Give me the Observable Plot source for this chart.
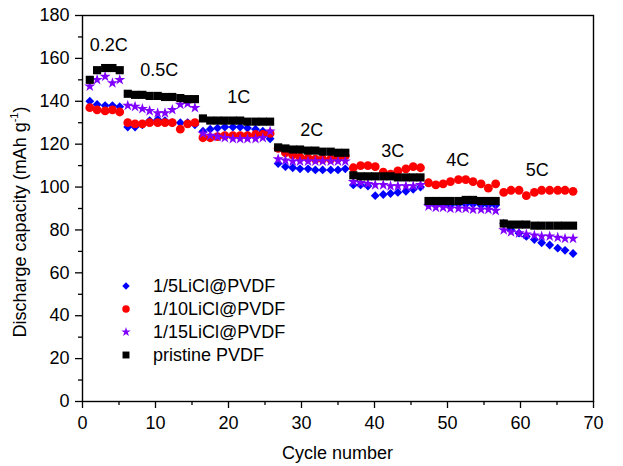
<!DOCTYPE html>
<html><head><meta charset="utf-8">
<script src="https://cdn.jsdelivr.net/npm/d3@7"></script>
<script src="https://cdn.jsdelivr.net/npm/@observablehq/plot@0.6"></script>
<style>
body{margin:0;background:#fff}
svg{font-family:"Liberation Sans", Arial, Helvetica, sans-serif}
</style>
</head><body><div id="chart"></div>
<script>
// Cycle positions (x)
const cycles = [1.0, 2.0, 3.1, 4.1, 5.1,
  6.2, 7.2, 8.2, 9.2, 10.3, 11.3, 12.3, 13.4, 14.4, 15.4,
  16.5, 17.5, 18.5, 19.5, 20.6, 21.6, 22.6, 23.7, 24.7, 25.7,
  26.8, 27.8, 28.8, 29.8, 30.9, 31.9, 32.9, 34.0, 35.0, 36.0,
  37.1, 38.1, 39.1, 40.1, 41.2, 42.2, 43.2, 44.3, 45.3, 46.3,
  47.4, 48.4, 49.4, 50.4, 51.5, 52.5, 53.5, 54.6, 55.6, 56.6,
  57.7, 58.7, 59.8, 60.8, 61.9, 62.9, 64.0, 65.1, 66.1, 67.2];

const seriesNames = ["1/5LiCl@PVDF", "1/10LiCl@PVDF", "1/15LiCl@PVDF", "pristine PVDF"];
const seriesColors = ["#0000ff", "#ff0000", "#8000ff", "#000000"];
const seriesSymbols = ["diamond2", "circle", "star", "square"];

const cap1_5 = [140, 138.5, 138, 138, 137.5,
  128, 128, 129, 131, 131.5, 131, 130, 130, 130, 129,
  126, 127, 127.5, 128, 128, 128, 127.5, 127, 126, 122.5,
  111, 109.5, 109, 108.5, 108.5, 108, 108, 108, 108, 108.5,
  101, 101, 100.5, 96, 96.5, 97, 97.5, 98, 99, 100,
  92, 92, 91.5, 91.5, 92, 92, 92, 91.5, 91.5, 91.5,
  83, 80, 78.5, 77, 75.5, 74, 73, 71.5, 70.5, 69];

const cap1_10 = [137, 136, 135.5, 136, 135,
  130, 129.5, 129.5, 130, 130, 130, 130, 127, 129.5, 130,
  123, 123, 123.5, 124, 124, 124, 124, 124.5, 124.5, 125,
  118, 116, 115, 114, 113.5, 113, 113, 113, 113.5, 114.5,
  109, 110, 110, 109.5, 107, 106, 107.5, 108.5, 109.5, 109,
  102, 101, 101.5, 102.5, 103.5, 103.5, 102.5, 101.5, 99.5, 101.5,
  97.5, 98.5, 98.5, 96, 97.5, 98.5, 98.5, 98.5, 98.5, 98];

const cap1_15 = [147, 150, 151.5, 148.5, 150,
  138, 137.5, 136.5, 135.5, 134.5, 134.5, 136, 138.5, 139, 137,
  125, 124, 123.5, 123, 122.5, 122.5, 122.5, 122.5, 123, 126,
  113, 112.5, 112, 112, 112, 112, 112, 112, 112, 112,
  102.5, 102, 101.5, 101, 101, 100.5, 100.5, 100.5, 100.5, 101,
  91, 90.5, 90.5, 90, 90, 90, 89.5, 89.5, 89.5, 89,
  80, 79, 78.5, 78, 77.5, 77, 77, 76.5, 76, 76];

const capPristine = [150, 154.5, 155.5, 155.5, 154.5,
  143.5, 143, 143, 142.5, 142.5, 142, 142, 141.5, 141, 141,
  132, 131, 131, 131, 131, 131, 130.5, 130.5, 130.5, 130.5,
  118.5, 118, 117.5, 117.5, 117, 117, 116.5, 116.5, 116, 116,
  105.5, 105, 105, 105, 105, 105, 104.5, 104.5, 104.5, 104.5,
  93.5, 93.5, 93.5, 93.5, 93.5, 94, 94, 93.5, 93.5, 93.5,
  83, 82.5, 82.5, 82.5, 82, 82, 82, 82, 82, 82];

const rateLabels = ["0.2C", "0.5C", "1C", "2C", "3C", "4C", "5C"];
const rateLabelCycle = [3.6, 10.5, 21.4, 31.4, 42.5, 51.4, 62.3];
const rateLabelCap = [166, 154.4, 141.8, 126.4, 116.6, 112.4, 107.7];

const xTicks = [0, 10, 20, 30, 40, 50, 60, 70];
const xMinor = [5, 15, 25, 35, 45, 55, 65];
const yTicks = [0, 20, 40, 60, 80, 100, 120, 140, 160, 180];
const yMinor = [10, 30, 50, 70, 90, 110, 130, 150, 170];

const allSeries = [cap1_5, cap1_10, cap1_15, capPristine];
const rows = allSeries.map((arr, s) => cycles.map((c, i) => ({cycle: c, cap: arr[i], s})));
const labels = rateLabels.map((t, i) => ({t, x: rateLabelCycle[i], y: rateLabelCap[i]}));

const W = 623, H = 466;
const mL = 82, mR = 30, mT = 15, mB = 65;
const markerR = [4.0, 4.4, 3.5, 4.6];

const marks = [
  Plot.axisX({ticks: xMinor, tickSize: 4, text: null, strokeWidth: 1.3}),
  Plot.axisY({ticks: yMinor, tickSize: 4, text: null, strokeWidth: 1.3}),
  Plot.axisX({ticks: xTicks, tickSize: 7, tickPadding: 8, fontSize: 18, strokeWidth: 1.3, label: null, tickFormat: d => d}),
  Plot.axisY({ticks: yTicks, tickSize: 7, tickPadding: 6, fontSize: 18, strokeWidth: 1.3, label: null, tickFormat: d => d}),
];
rows.forEach((r, s) => {
  marks.push(Plot.dot(r, {x: "cycle", y: "cap", symbol: () => seriesSymbols[s], fill: seriesColors[s], stroke: "none", r: markerR[s]}));
});
marks.push(Plot.text(labels, {x: "x", y: "y", text: "t", fontSize: 18, fill: "black", textAnchor: "middle", lineAnchor: "middle"}));
marks.push(Plot.frame({stroke: "black", strokeWidth: 1.4}));

const chart = Plot.plot({
  width: W, height: H,
  marginLeft: mL, marginRight: mR, marginTop: mT, marginBottom: mB,
  style: {fontSize: "18px", fontFamily: '"Liberation Sans", Arial, sans-serif', color: "black", background: "white"},
  x: {domain: [0, 70], label: null},
  y: {domain: [0, 180], label: null},
  symbol: {type: "identity"},
  marks
});
document.getElementById("chart").appendChild(chart);

const svg = d3.select(chart);
// axis titles
svg.append("text")
  .attr("x", (mL + W - mR) / 2).attr("y", 458.5)
  .attr("text-anchor", "middle").attr("font-size", 18).attr("fill", "black")
  .text("Cycle number");
const yt = svg.append("text")
  .attr("transform", `translate(26,${(mT + H - mB) / 2 + 14}) rotate(-90)`)
  .attr("text-anchor", "middle").attr("font-size", 18).attr("fill", "black");
yt.append("tspan").text("Discharge capacity (mAh g");
yt.append("tspan").attr("font-size", 11).attr("dy", -8).text("-1");
yt.append("tspan").attr("dy", 8).text(")");

// legend
const lg = svg.append("g").attr("transform", `translate(${mL + 44},${mT + 271})`);
seriesNames.forEach((name, i) => {
  const g = lg.append("g").attr("transform", `translate(0,${i * 23})`);
  const sym = {diamond2: d3.symbolDiamond2, circle: d3.symbolCircle, star: d3.symbolStar, square: d3.symbolSquare}[seriesSymbols[i]];
  const rr = markerR[i] * 0.85;
  g.append("path").attr("d", d3.symbol(sym, Math.PI * rr * rr)()).attr("fill", seriesColors[i]);
  g.append("text").attr("x", 27).attr("y", 0).attr("dy", "0.35em")
    .attr("text-anchor", "start")
    .attr("font-size", 18).attr("fill", "black").text(name);
});
</script>
</body></html>
